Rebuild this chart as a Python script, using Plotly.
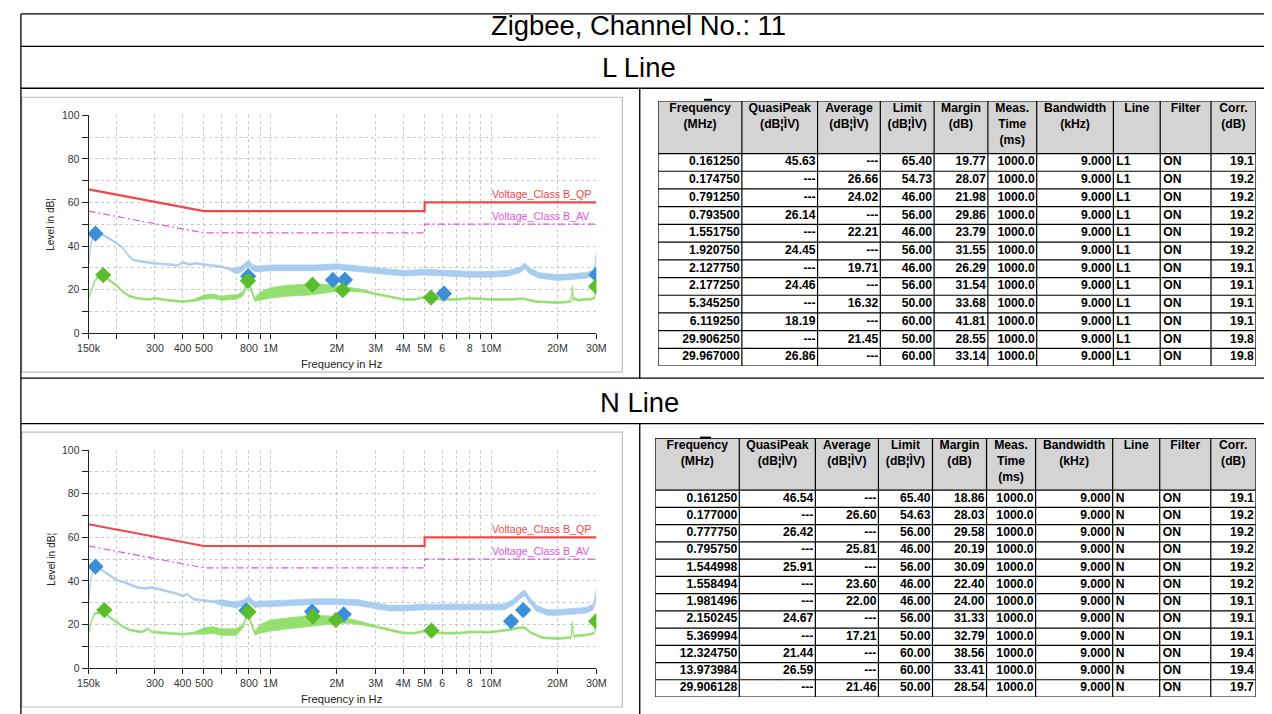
import math
import plotly.graph_objects as go

# page -> picture mapping measured from earlier renders (figure 1272x714)
FW, FH = 1272, 714
OX, OY, SC = 18.3, 12.7, 0.985
FS = 1 / SC


def px(x):
    return ((x - OX) / SC) / FW


def py(y):
    return 1 - ((y - OY) / SC) / FH


# ---------------- text ----------------
PAGE_TITLE = "Zigbee, Channel No.: 11"
SECTION_TITLES = ["L Line", "N Line"]
X_TITLE = "Frequency in Hz"
Y_TITLE = "Level in dB¦"
QP_LABEL = "Voltage_Class B_QP"
AV_LABEL = "Voltage_Class B_AV"

# ---------------- axis ticks ----------------
tick_freq_hz = [150e3, 200e3, 300e3, 400e3, 500e3, 600e3, 700e3, 800e3, 900e3,
                1e6, 2e6, 3e6, 4e6, 5e6, 6e6, 7e6, 8e6, 9e6, 10e6, 20e6, 30e6]
tick_text = ["150k", "", "300", "400", "500", "", "", "800", "", "1M", "2M", "3M",
             "4M", "5M", "6", "", "8", "", "10M", "20M", "30M"]

# ---------------- limit lines (MHz, dBuV) ----------------
limit_freq_mhz = [0.15, 0.5, 5.0, 5.0, 30.0]
qp_limit = [66, 56, 56, 60, 60]
av_limit = [56, 46, 46, 50, 50]

# ---------------- L line spectrum ----------------
L_qp_freq = [0.150, 0.153, 0.158, 0.165, 0.175, 0.190, 0.200, 0.215, 0.230, 0.240,
             0.260, 0.300, 0.350, 0.380, 0.400, 0.430, 0.460, 0.500, 0.550, 0.600,
             0.650, 0.700, 0.740, 0.780, 0.800, 0.830, 0.870, 0.950, 1.0, 1.3,
             1.6, 2.0, 2.5, 3.0, 3.5, 4.0, 5.0, 6.0, 8.0, 10.0,
             12.0, 13.5, 14.2, 15.0, 16.5, 20.0, 24.0, 27.0, 29.0, 29.6, 30.0]
L_qp_level = [31, 40, 45, 46, 45, 43, 41.5, 39, 35, 33.5,
              33, 32, 31.5, 31, 32.5, 31.5, 32, 31.5, 31, 30.5,
              29.5, 28.5, 29.5, 31.5, 32, 30, 29.5, 30, 30, 30,
              30, 30.5, 29.5, 28.5, 28, 27.5, 28, 27.5, 27, 27,
              27.5, 29, 31, 28.5, 26.5, 25.5, 26, 26.5, 27.5, 30, 36]
L_qp_spread = [0.4] * 21 + [1.3] * 30

L_av_freq = [0.150, 0.155, 0.160, 0.165, 0.175, 0.185, 0.200, 0.215, 0.230, 0.250,
             0.280, 0.300, 0.350, 0.400, 0.450, 0.500, 0.550, 0.600, 0.650, 0.700,
             0.750, 0.780, 0.795, 0.810, 0.850, 0.900, 1.0, 1.2, 1.5, 1.8,
             2.0, 2.3, 2.6, 3.0, 3.5, 4.0, 4.5, 5.0, 6.0, 7.0,
             8.0, 10.0, 12.0, 14.0, 16.0, 20.0, 23.0, 23.4, 23.6, 23.8,
             25.0, 26.0, 28.0, 29.3, 29.7, 30.0]
L_av_level = [16, 20, 24, 25.5, 26, 24.5, 22, 19, 17, 16,
              15.5, 16, 15, 14.5, 15, 16.5, 17, 16, 16.5, 16.5,
              18, 22, 25, 21, 15.5, 17, 18.5, 19.5, 20, 20.5,
              20.5, 20, 19.5, 18, 16.5, 15.5, 15.5, 16.5, 15.5, 15.5,
              16, 15.5, 15.5, 15.8, 14.5, 14, 14.5, 21.5, 15, 16,
              15, 15.5, 15.5, 16, 18, 21]
L_av_spread = [0.4] * 15 + [1.0] * 6 + [0.8] * 4 + [1.8, 2.4, 2.5, 2.5, 2.0, 1.3, 0.9, 0.6] + [0.4] * 23

# ---------------- N line spectrum ----------------
N_qp_freq = [0.150, 0.153, 0.158, 0.165, 0.175, 0.190, 0.200, 0.215, 0.230, 0.250,
             0.270, 0.290, 0.320, 0.350, 0.380, 0.400, 0.420, 0.450, 0.500, 0.550,
             0.600, 0.700, 0.760, 0.800, 0.850, 0.900, 1.0, 1.3, 1.6, 2.0,
             2.5, 3.0, 3.5, 4.0, 5.0, 6.0, 8.0, 10.0, 11.5, 12.5,
             13.5, 14.2, 15.0, 16.0, 18.0, 20.0, 24.0, 27.0, 29.0, 29.6, 30.0]
N_qp_level = [30, 40, 46, 46.5, 44.5, 42, 40.5, 39.5, 38.5, 37,
              36.5, 37, 36, 35, 34, 33, 34, 31.5, 31, 30.5,
              30, 29, 30, 31.5, 29, 29.5, 29.5, 30, 30.5, 30.5,
              30, 28.5, 27.5, 27.5, 28, 28, 28, 28, 28, 30,
              33, 34.5, 31, 27.5, 25.5, 25.5, 26, 26.5, 28, 31, 35]
N_qp_spread = [0.4] * 20 + [1.3] * 31

N_av_freq = [0.150, 0.155, 0.160, 0.170, 0.180, 0.200, 0.215, 0.230, 0.260, 0.280,
             0.290, 0.300, 0.350, 0.400, 0.450, 0.500, 0.550, 0.600, 0.650, 0.700,
             0.750, 0.780, 0.795, 0.815, 0.850, 0.900, 1.0, 1.2, 1.5, 1.8,
             2.0, 2.3, 2.6, 3.0, 3.5, 4.0, 4.5, 5.0, 6.0, 7.0,
             8.0, 10.0, 12.0, 13.5, 14.2, 15.0, 17.0, 20.0, 23.0, 23.4,
             23.6, 23.8, 25.0, 26.0, 28.0, 29.3, 29.7, 30.0]
N_av_level = [16, 22, 25, 25.5, 24.5, 21, 19, 17.5, 16.5, 18,
              16.5, 16.5, 16, 15.5, 16, 17, 17.5, 16.5, 16.5, 16.5,
              19, 24, 26, 21, 16, 18, 19.5, 20.5, 21.5, 22,
              22, 21.5, 20.5, 19, 17.5, 16, 16, 17, 16, 16,
              16.5, 16.5, 17.5, 18.5, 18.5, 16.5, 14, 13.5, 14, 21,
              15, 14.5, 15, 15, 15.5, 16, 18, 21]
N_av_spread = [0.4] * 15 + [1.5] * 5 + [0.8] * 5 + [2.0, 2.5, 2.5, 2.5, 2.0, 1.5, 1.0, 0.7] + [0.4] * 25

# ---------------- final measurement tables ----------------
L_tab_freq = [0.161250, 0.174750, 0.791250, 0.793500, 1.551750, 1.920750, 2.127750,
              2.177250, 5.345250, 6.119250, 29.906250, 29.967000]
L_tab_qp = [45.63, None, None, 26.14, None, 24.45, None, 24.46, None, 18.19, None, 26.86]
L_tab_av = [None, 26.66, 24.02, None, 22.21, None, 19.71, None, 16.32, None, 21.45, None]
L_tab_limit = [65.40, 54.73, 46.00, 56.00, 46.00, 56.00, 46.00, 56.00, 50.00, 60.00, 50.00, 60.00]
L_tab_margin = [19.77, 28.07, 21.98, 29.86, 23.79, 31.55, 26.29, 31.54, 33.68, 41.81, 28.55, 33.14]
L_tab_corr = [19.1, 19.2, 19.2, 19.2, 19.2, 19.2, 19.1, 19.1, 19.1, 19.1, 19.8, 19.8]
L_tab_line = "L1"

N_tab_freq = [0.161250, 0.177000, 0.777750, 0.795750, 1.544998, 1.558494, 1.981496,
              2.150245, 5.369994, 12.324750, 13.973984, 29.906128]
N_tab_qp = [46.54, None, 26.42, None, 25.91, None, None, 24.67, None, 21.44, 26.59, None]
N_tab_av = [None, 26.60, None, 25.81, None, 23.60, 22.00, None, 17.21, None, None, 21.46]
N_tab_limit = [65.40, 54.63, 56.00, 46.00, 56.00, 46.00, 46.00, 56.00, 50.00, 60.00, 60.00, 50.00]
N_tab_margin = [18.86, 28.03, 29.58, 20.19, 30.09, 22.40, 24.00, 31.33, 32.79, 38.56, 33.41, 28.54]
N_tab_corr = [19.1, 19.2, 19.2, 19.2, 19.2, 19.2, 19.1, 19.1, 19.1, 19.4, 19.4, 19.7]
N_tab_line = "N"

meas_time_ms = 1000.0
bandwidth_khz = 9.000
filter_state = "ON"

header_labels = ["Frequency<br>(MHz)", "QuasiPeak<br>(dB¦ÌV)", "Average<br>(dB¦ÌV)",
                 "Limit<br>(dB¦ÌV)", "Margin<br>(dB)", "Meas.<br>Time<br>(ms)",
                 "Bandwidth<br>(kHz)", "Line", "Filter", "Corr.<br>(dB)"]

# ---------------- styling ----------------
FONT = "Liberation Sans, Arial, sans-serif"
TFONT = "Liberation Sans, Arial, sans-serif"
BLUE_TRACE = "#a8cdf1"
GREEN_TRACE = "#93df70"
BLUE_MARK = "#3b8fd8"
GREEN_MARK = "#5abd2c"
RED = "#f04848"
MAGENTA = "#e055e0"
GRID = "#c9c9c9"
COL_W = [84, 76, 63, 54, 54, 49, 77, 47, 51, 45]
COL_ALIGN = ["r", "r", "r", "r", "r", "r", "r", "l", "l", "r"]

fig = go.Figure()
shapes = []
annotations = []


def fmt(v, nd=2):
    return "---" if v is None else f"{v:.{nd}f}"


def ax_names(i):
    return ("x" if i == 1 else f"x{i}", "y" if i == 1 else f"y{i}",
            "xaxis" if i == 1 else f"xaxis{i}", "yaxis" if i == 1 else f"yaxis{i}")


def add_chart(idx, top, bottom, frame_top, frame_bottom, fq, vq, sq, fa, va, sa, tfreq, tqp, tav):
    xa, ya, xl, yl = ax_names(idx)
    common = dict(xaxis=xa, yaxis=ya, showlegend=False, hoverinfo="skip")
    lim_hz = [f * 1e6 for f in limit_freq_mhz]
    fig.add_trace(go.Scatter(x=lim_hz, y=av_limit, mode="lines",
                             line=dict(color=MAGENTA, width=1.2, dash="7px,3px,2px,3px"), **common))
    fig.add_trace(go.Scatter(x=lim_hz, y=qp_limit, mode="lines",
                             line=dict(color=RED, width=2.2), **common))

    for f, v, s, c in ((fq, vq, sq, BLUE_TRACE), (fa, va, sa, GREEN_TRACE)):
        xs = [x * 1e6 for x in f]
        lo = [a - b for a, b in zip(v, s)]
        hi = [a + b for a, b in zip(v, s)]
        fig.add_trace(go.Scatter(x=xs, y=lo, mode="lines", line=dict(color=c, width=0.8), **common))
        fig.add_trace(go.Scatter(x=xs, y=hi, mode="lines", line=dict(color=c, width=0.8),
                                 fill="tonexty", fillcolor=c, **common))

    qx = [f * 1e6 for f, q in zip(tfreq, tqp) if q is not None]
    qy = [q for q in tqp if q is not None]
    axx = [f * 1e6 for f, a in zip(tfreq, tav) if a is not None]
    ayy = [a for a in tav if a is not None]
    fig.add_trace(go.Scatter(x=qx, y=qy, mode="markers",
                             marker=dict(symbol="diamond", size=12.5, color=BLUE_MARK), **common))
    fig.add_trace(go.Scatter(x=axx, y=ayy, mode="markers",
                             marker=dict(symbol="diamond", size=12.5, color=GREEN_MARK), **common))

    fig.layout[xl] = dict(
        type="log", domain=[px(87), px(596)],
        range=[math.log10(150e3), math.log10(30e6)], anchor=ya,
        tickvals=tick_freq_hz, ticktext=tick_text, ticks="outside", ticklen=5,
        tickcolor="#222", showline=True, linecolor="#222", linewidth=1,
        showgrid=True, gridcolor=GRID, griddash="3px,3px", gridwidth=1,
        tickfont=dict(family=FONT, size=10.5 * FS, color="#333"), zeroline=False)
    fig.layout[yl] = dict(
        domain=[py(bottom), py(top)], range=[0, 100], anchor=xa,
        tickvals=[0, 20, 40, 60, 80, 100], ticks="outside", ticklen=6,
        tickcolor="#222", showline=True, linecolor="#222", linewidth=1,
        showgrid=True, gridcolor=GRID, griddash="3px,3px", gridwidth=1,
        minor=dict(tickvals=[10, 30, 50, 70, 90], ticks="outside", ticklen=6,
                   tickcolor="#222", showgrid=True, gridcolor=GRID, griddash="3px,3px"),
        tickfont=dict(family=FONT, size=10.3 * FS, color="#333"), zeroline=False)

    annotations.append(dict(text=QP_LABEL, xref="paper", yref=ya, x=px(489), y=60,
                            xanchor="left", yanchor="bottom", showarrow=False,
                            font=dict(family=FONT, size=10.5 * FS, color=RED)))
    annotations.append(dict(text=AV_LABEL, xref="paper", yref=ya, x=px(489), y=50,
                            xanchor="left", yanchor="bottom", showarrow=False,
                            font=dict(family=FONT, size=10.5 * FS, color=MAGENTA)))
    annotations.append(dict(text=Y_TITLE, xref="paper", yref="paper", x=px(49), y=py((top + bottom) / 2),
                            xanchor="center", yanchor="middle", textangle=-90, showarrow=False,
                            font=dict(family=FONT, size=10 * FS, color="#222")))
    annotations.append(dict(text=X_TITLE, xref="paper", yref="paper", x=px(341), y=py(bottom + 31),
                            xanchor="center", yanchor="middle", showarrow=False,
                            font=dict(family=FONT, size=11 * FS, color="#222")))
    shapes.append(dict(type="rect", xref="paper", yref="paper", x0=px(20), x1=px(622),
                       y0=py(frame_top), y1=py(frame_bottom), line=dict(color="#bdbdbd", width=1.2)))


def add_table(idx, x0, x1, top, head_h, row_h, tfreq, tqp, tav, tlim, tmar, tline, tcorr):
    xa, ya, xl, yl = ax_names(idx)
    n = len(tfreq)
    total_w = sum(COL_W)
    total_h = head_h + row_h * n
    cols = [[f"{f:.6f}" for f in tfreq],
            [fmt(v) for v in tqp],
            [fmt(v) for v in tav],
            [fmt(v) for v in tlim],
            [fmt(v) for v in tmar],
            [f"{meas_time_ms:.1f}"] * n,
            [f"{bandwidth_khz:.3f}"] * n,
            [tline] * n,
            [filter_state] * n,
            [f"{v:.1f}" for v in tcorr]]
    edges = [0]
    for w in COL_W:
        edges.append(edges[-1] + w)

    shapes.append(dict(type="rect", xref=xa, yref=ya, x0=0, x1=total_w, y0=0, y1=head_h,
                       fillcolor="#d4d4d4", line=dict(width=0), layer="below"))
    for e in edges:
        shapes.append(dict(type="line", xref=xa, yref=ya, x0=e, x1=e, y0=0, y1=total_h,
                           line=dict(color="black", width=1.2)))
    for r in range(n + 1):
        yy = head_h + r * row_h
        shapes.append(dict(type="line", xref=xa, yref=ya, x0=0, x1=total_w, y0=yy, y1=yy,
                           line=dict(color="black", width=1.2)))
    shapes.append(dict(type="line", xref=xa, yref=ya, x0=0, x1=total_w, y0=0, y1=0,
                       line=dict(color="black", width=1.2)))

    hx = [(edges[i] + edges[i + 1]) / 2 for i in range(len(COL_W))]
    fig.add_trace(go.Scatter(x=hx, y=[2] * len(hx), text=header_labels, mode="text",
                             textposition="bottom center", xaxis=xa, yaxis=ya, hoverinfo="skip",
                             showlegend=False,
                             textfont=dict(family=TFONT, size=12 * FS, color="black", weight="bold")))
    bx, by, bt, bp = [], [], [], []
    for c, colvals in enumerate(cols):
        for r, t in enumerate(colvals):
            if COL_ALIGN[c] == "r":
                bx.append(edges[c + 1] - 2)
                bp.append("middle left")
            else:
                bx.append(edges[c] + 3)
                bp.append("middle right")
            by.append(head_h + (r + 0.5) * row_h)
            bt.append(t)
    fig.add_trace(go.Scatter(x=bx, y=by, text=bt, mode="text", textposition=bp,
                             xaxis=xa, yaxis=ya, hoverinfo="skip", showlegend=False,
                             textfont=dict(family=TFONT, size=12 * FS, color="black", weight="bold")))

    fig.layout[xl] = dict(domain=[px(x0), px(x1)], range=[0, total_w], anchor=ya,
                          visible=False, fixedrange=True)
    fig.layout[yl] = dict(domain=[py(top + total_h), py(top)], range=[total_h, 0], anchor=xa,
                          visible=False, fixedrange=True)


add_chart(1, 115, 333, 97, 372, L_qp_freq, L_qp_level, L_qp_spread, L_av_freq, L_av_level,
          L_av_spread, L_tab_freq, L_tab_qp, L_tab_av)
add_chart(2, 450, 668, 432, 707, N_qp_freq, N_qp_level, N_qp_spread, N_av_freq, N_av_level,
          N_av_spread, N_tab_freq, N_tab_qp, N_tab_av)
add_table(3, 658, 1257, 100.7, 52.6, 17.72, L_tab_freq, L_tab_qp, L_tab_av, L_tab_limit,
          L_tab_margin, L_tab_line, L_tab_corr)
add_table(5, 655, 1257, 438, 52, 17.25, N_tab_freq, N_tab_qp, N_tab_av, N_tab_limit,
          N_tab_margin, N_tab_line, N_tab_corr)


# ---------------- outer document table ----------------
def hline(y, xa=19.2, xb=1269.5, w=1.3):
    shapes.append(dict(type="line", xref="paper", yref="paper", x0=px(xa), x1=px(xb),
                       y0=py(y), y1=py(y), line=dict(color="black", width=w)))


def vline(x, ya, yb, w=1.3):
    shapes.append(dict(type="line", xref="paper", yref="paper", x0=px(x), x1=px(x),
                       y0=py(ya), y1=py(yb), line=dict(color="black", width=w)))


for yy in (13.6, 46, 88, 378, 423.5):
    hline(yy)
vline(19.2, 13.6, 714)
vline(1269.5, 13.6, 714)
vline(639.5, 88, 378)
vline(639.5, 423.5, 714)
hline(99.5, 704, 712, 2)
hline(437.5, 700, 711, 2)

annotations.append(dict(text=PAGE_TITLE, xref="paper", yref="paper", x=px(638), y=py(25),
                        xanchor="center", yanchor="middle", showarrow=False,
                        font=dict(family=FONT, size=27 * FS, color="black")))
annotations.append(dict(text=SECTION_TITLES[0], xref="paper", yref="paper", x=px(639), y=py(67),
                        xanchor="center", yanchor="middle", showarrow=False,
                        font=dict(family=FONT, size=27 * FS, color="black")))
annotations.append(dict(text=SECTION_TITLES[1], xref="paper", yref="paper", x=px(639), y=py(402),
                        xanchor="center", yanchor="middle", showarrow=False,
                        font=dict(family=FONT, size=27 * FS, color="black")))

fig.update_layout(width=FW, height=FH, margin=dict(l=0, r=0, t=0, b=0),
                  paper_bgcolor="white", plot_bgcolor="white",
                  shapes=shapes, annotations=annotations, showlegend=False)

fig.write_html("out.html")
